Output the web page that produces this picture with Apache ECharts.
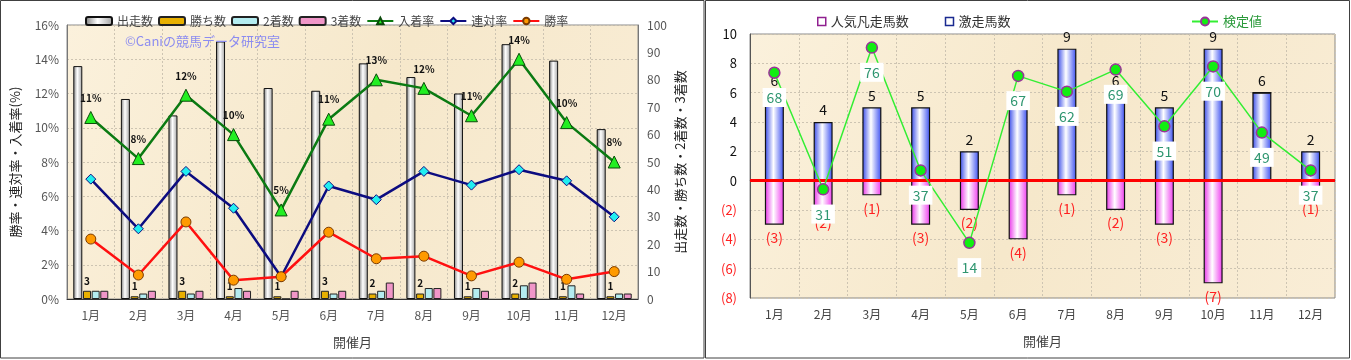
<!DOCTYPE html>
<html><head><meta charset="utf-8">
<script src="https://cdn.jsdelivr.net/npm/echarts@6/dist/echarts.min.js"></script>
<style>html,body{margin:0;padding:0;background:#fff;}#c{width:1351px;height:360px;}</style>
</head><body><div id="c"></div>
<script>
// ---- data ----
const months = ['1月','2月','3月','4月','5月','6月','7月','8月','9月','10月','11月','12月'];
const starts = [85,73,67,94,77,76,86,81,75,93,87,62];
const wins = [3,1,3,1,1,3,2,2,1,2,1,1];
const seconds = [3,2,2,4,0,2,3,4,4,5,5,2];
const thirds = [3,3,3,3,3,3,6,4,3,6,2,2];
const placeRate = [10.6,8.2,11.9,9.6,5.2,10.5,12.8,12.3,10.7,14.0,10.3,8.0];
const quinellaRate = [7.0,4.1,7.45,5.3,1.3,6.6,5.8,7.45,6.65,7.55,6.9,4.8];
const winRate = [3.5,1.4,4.5,1.1,1.3,3.9,2.35,2.5,1.35,2.15,1.15,1.6];
const upsetCounts = [6,4,5,5,2,5,9,6,5,9,6,2];
const flopCounts = [-3,-2,-1,-3,-2,-4,-1,-2,-3,-7,0,-1];
const testValues = [68,31,76,37,14,67,62,69,51,70,49,37];
const leftTicksMax = 16, rightTicksMax = 100;

const FONT = '"Noto Sans CJK JP", "Noto Sans", sans-serif';
const chart = echarts.init(document.getElementById('c'));

function hgrad(edgeL, mid, edgeR){
  return new echarts.graphic.LinearGradient(0,0,1,0,[
    {offset:0,color:edgeL},{offset:0.45,color:mid},{offset:1,color:edgeR}]);
}
const bgGrad = new echarts.graphic.LinearGradient(0,0,1,1,[
  {offset:0,color:'#fbf1dc'},{offset:0.5,color:'#f6e8cb'},{offset:1,color:'#f9edd6'}]);
const splitStyle = {show:true,lineStyle:{color:'#cdc4b2',type:[2,2],width:1}};

const option = {
  animation:false,
  textStyle:{fontFamily:FONT},
  graphic:[
    {type:'rect',shape:{x:0.5,y:0.5,width:703.5,height:357.5},style:{fill:'none',stroke:'#404040',lineWidth:1},z:-10},
    {type:'rect',shape:{x:705.5,y:0.5,width:644,height:357.5},style:{fill:'none',stroke:'#404040',lineWidth:1},z:-10},
    {type:'text',left:125,top:35,z:50,style:{text:'©Caniの競馬データ研究室',fill:'#8c8cf0',font:'13px '+FONT}}
  ],
  legend:[
    {left:80,top:10,itemWidth:26,itemHeight:8,itemGap:5,
     textStyle:{fontSize:12,color:'#444',fontFamily:FONT},
     data:['出走数','勝ち数','2着数','3着数','入着率','連対率','勝率']},
    {left:812,top:10,itemWidth:8,itemHeight:8,itemGap:36,
     textStyle:{fontSize:13,color:'#333',fontFamily:FONT},
     data:[{name:'人気凡走馬数',icon:'rect',itemStyle:{color:'#fff',borderColor:'#902090',borderWidth:1.5}},
           {name:'激走馬数',icon:'rect',itemStyle:{color:'#fff',borderColor:'#1a2a90',borderWidth:1.5}}]},
    {left:1186,top:10,itemWidth:26,itemHeight:10,
     textStyle:{fontSize:13,color:'#2a9a3a',fontFamily:FONT},
     data:['検定値']}
  ],
  grid:[
    {left:67,top:25,width:571,height:274,show:true,backgroundColor:bgGrad,borderColor:'#8a8a8a',borderWidth:1},
    {left:750,top:34,width:585,height:264,show:true,backgroundColor:bgGrad,borderColor:'#8a8a8a',borderWidth:1}
  ],
  xAxis:[
    {type:'category',gridIndex:0,data:months,axisTick:{show:false},
     axisLine:{lineStyle:{color:'#333',width:1}},
     axisLabel:{color:'#555',fontSize:12,margin:10},
     splitLine:splitStyle,
     name:'開催月',nameLocation:'middle',nameGap:37,nameTextStyle:{color:'#444',fontSize:13}},
    {type:'category',gridIndex:1,data:months,axisTick:{show:false},
     axisLine:{lineStyle:{color:'#8a8a8a',width:1}},
     axisLabel:{color:'#444',fontSize:12,margin:10},
     splitLine:splitStyle,
     name:'開催月',nameLocation:'middle',nameGap:37,nameTextStyle:{color:'#444',fontSize:13}}
  ],
  yAxis:[
    {type:'value',gridIndex:0,min:0,max:leftTicksMax,interval:2,
     axisLine:{show:true,lineStyle:{color:'#777'}},axisTick:{show:false},
     axisLabel:{formatter:'{value}%',color:'#555',fontSize:12,margin:8},
     splitLine:splitStyle,
     name:'勝率・連対率・入着率(%)',nameLocation:'middle',nameRotate:90,nameGap:45,
     nameTextStyle:{color:'#222',fontSize:13}},
    {type:'value',gridIndex:0,min:0,max:rightTicksMax,interval:10,position:'right',
     axisLine:{show:true,lineStyle:{color:'#777'}},axisTick:{show:false},
     axisLabel:{color:'#555',fontSize:12,margin:9},
     splitLine:{show:false},
     name:'出走数・勝ち数・2着数・3着数',nameLocation:'middle',nameRotate:90,nameGap:36,
     nameTextStyle:{color:'#222',fontSize:13}},
    {type:'value',gridIndex:1,min:-8,max:10,interval:2,
     axisLine:{show:true,lineStyle:{color:'#555'}},axisTick:{show:false},
     axisLabel:{margin:13,fontSize:13,
       formatter:function(v){return v<0?'{r|('+(-v)+')}':'{b|'+v+'}';},
       rich:{r:{color:'#ff2020',fontSize:13,fontFamily:FONT},b:{color:'#111',fontSize:13,fontFamily:FONT}}},
     splitLine:splitStyle},
    {type:'value',gridIndex:1,min:-3.5,max:80.3,show:false,splitLine:{show:false}}
  ],
  series:[
    {name:'出走数',type:'bar',xAxisIndex:0,yAxisIndex:1,data:starts,barWidth:9,barGap:'8%',
     itemStyle:{color:hgrad('#7c7c7c','#ffffff','#a0a0a0'),borderColor:'#111',borderWidth:1}},
    {name:'勝ち数',type:'bar',xAxisIndex:0,yAxisIndex:1,data:wins,barWidth:8,
     itemStyle:{color:'#e8b000',borderColor:'#222',borderWidth:1},
     label:{show:true,position:'top',distance:5,color:'#111',fontSize:10,fontWeight:'bold'}},
    {name:'2着数',type:'bar',xAxisIndex:0,yAxisIndex:1,data:seconds,barWidth:8,
     itemStyle:{color:'#b4ecf0',borderColor:'#222',borderWidth:1}},
    {name:'3着数',type:'bar',xAxisIndex:0,yAxisIndex:1,data:thirds,barWidth:8,
     itemStyle:{color:'#f096c8',borderColor:'#222',borderWidth:1}},
    {name:'入着率',type:'line',xAxisIndex:0,yAxisIndex:0,data:placeRate,z:5,
     lineStyle:{color:'#0b7a12',width:2.5},symbol:'triangle',symbolSize:12,
     itemStyle:{color:'#22ee22',borderColor:'#0a4a0a',borderWidth:1},
     label:{show:true,position:'top',distance:8,color:'#111',fontSize:10,fontWeight:'bold',
       formatter:function(p){return Math.round(p.value)+'%';}}},
    {name:'連対率',type:'line',xAxisIndex:0,yAxisIndex:0,data:quinellaRate,z:5,
     lineStyle:{color:'#0c0c80',width:2.5},symbol:'diamond',symbolSize:10,
     itemStyle:{color:'#22eef0',borderColor:'#0c0c80',borderWidth:1}},
    {name:'勝率',type:'line',xAxisIndex:0,yAxisIndex:0,data:winRate,z:5,
     lineStyle:{color:'#ff1010',width:2.5},symbol:'circle',symbolSize:10,
     itemStyle:{color:'#ff9a00',borderColor:'#7a3a00',borderWidth:1}},

    {name:'激走馬数',type:'bar',xAxisIndex:1,yAxisIndex:2,data:upsetCounts,stack:'r',barWidth:19,
     itemStyle:{color:hgrad('#3548e8','#ffffff','#3a4ef0'),borderColor:'#111',borderWidth:1.2},
     label:{show:true,position:'top',distance:5,color:'#111',fontSize:14},
     markLine:{silent:true,symbol:'none',label:{show:false},lineStyle:{color:'#ff0000',width:3,type:'solid'},data:[{yAxis:0}],z:4}},
    {name:'人気凡走馬数',type:'bar',xAxisIndex:1,yAxisIndex:2,data:flopCounts,stack:'r',barWidth:19,
     itemStyle:{color:hgrad('#e830e8','#ffffff','#ee3aee'),borderColor:'#111',borderWidth:1.2},
     label:{show:true,position:'bottom',distance:6,color:'#ff2020',fontSize:14,
       formatter:function(p){return p.value===0?'':'('+(-p.value)+')';}}},
    {name:'検定値',type:'line',xAxisIndex:1,yAxisIndex:3,data:testValues,z:10,
     lineStyle:{color:'#33ee33',width:1.5},symbol:'circle',symbolSize:11,
     itemStyle:{color:'#11ee11',borderColor:'#993399',borderWidth:1.5},
     label:{show:true,position:'bottom',distance:9,color:'#2f9670',fontSize:14,
       backgroundColor:'#ffffff',padding:[3,4,2,4]}}
  ]
};
chart.setOption(option);
</script></body></html>
